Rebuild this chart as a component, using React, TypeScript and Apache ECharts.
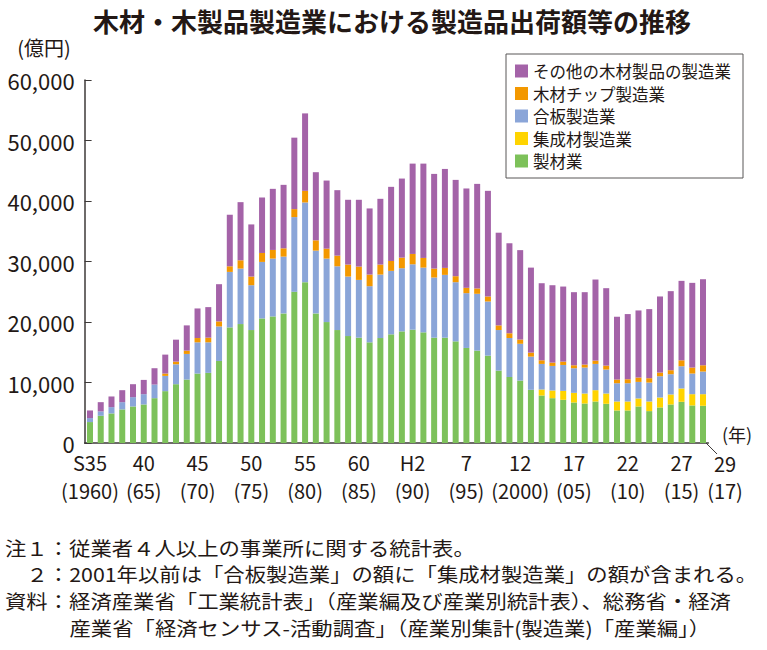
import React, { useEffect, useRef } from "react";
import * as echarts from "echarts";

const years = [
  "1960", "1961", "1962", "1963", "1964", "1965", "1966", "1967", "1968", "1969",
  "1970", "1971", "1972", "1973", "1974", "1975", "1976", "1977", "1978", "1979",
  "1980", "1981", "1982", "1983", "1984", "1985", "1986", "1987", "1988", "1989",
  "1990", "1991", "1992", "1993", "1994", "1995", "1996", "1997", "1998", "1999",
  "2000", "2001", "2002", "2003", "2004", "2005", "2006", "2007", "2008", "2009",
  "2010", "2011", "2012", "2013", "2014", "2015", "2016", "2017",
];

// 製材業 (green)
const seizai = [
  3460, 4500, 4890, 5550, 6040, 6370, 7410, 8570, 9720, 10490,
  11480, 11590, 13560, 19110, 19660, 18670, 20590, 20920, 21420, 24990,
  26580, 21420, 19990, 18670, 17680, 17410, 16640, 17350, 17960, 18450,
  18730, 18290, 17410, 17410, 16800, 15710, 15270, 14440, 11970, 10900,
  10320, 8790, 7850, 7410, 7140, 6700, 6530, 6860, 6480, 5380,
  5380, 6040, 5270, 5880, 6370, 6810, 6210, 6150,
];
// 集成材製造業 (yellow)
const shuseizai = [
  0, 0, 0, 0, 0, 0, 0, 0, 0, 0,
  0, 0, 0, 0, 0, 0, 0, 0, 0, 0,
  0, 0, 0, 0, 0, 0, 0, 0, 0, 0,
  0, 0, 0, 0, 0, 0, 0, 0, 0, 0,
  0, 0, 990, 1270, 1480, 1590, 1650, 1870, 1700, 1480,
  1480, 1320, 1590, 1640, 1650, 2200, 1860, 1920,
];
// 合板製造業 (blue)
const gouhan = [
  660, 720, 1040, 1200, 1540, 1700, 2250, 2520, 3290, 4230,
  5160, 5050, 5710, 9170, 9170, 7410, 9340, 9560, 9390, 12350,
  13180, 10380, 10490, 10540, 9830, 9550, 9280, 10490, 10490, 10440,
  10810, 10700, 9940, 10380, 9780, 9060, 9390, 8950, 6700, 6450,
  6080, 5490, 4230, 4060, 4280, 4070, 4290, 4340, 3960, 3020,
  3020, 2740, 3130, 3520, 3350, 3680, 3410, 3740,
];
// 木材チップ製造業 (orange)
const chip = [
  0, 0, 0, 0, 0, 0, 0, 390, 440, 550,
  710, 770, 830, 930, 1370, 1430, 1480, 1430, 1370, 1320,
  1920, 1700, 1640, 1760, 1980, 2200, 1920, 1650, 1640, 1750,
  1710, 1600, 1480, 1150, 990, 880, 880, 830, 770, 770,
  700, 660, 600, 550, 550, 490, 490, 550, 650, 610,
  660, 720, 720, 600, 660, 980, 990, 1040,
];
// その他の木材製品の製造業 (purple)
const sonota = [
  1260, 1530, 1760, 1980, 2140, 2360, 2700, 3130, 3630, 4170,
  4890, 5050, 6150, 8520, 9610, 8620, 9170, 10100, 10490, 11810,
  12800, 11260, 11260, 10820, 10710, 11040, 10930, 10870, 12250, 13070,
  14930, 15590, 15650, 16360, 15920, 16420, 17290, 17460, 15320, 14910,
  14780, 14050, 12740, 12790, 12410, 12080, 11970, 13400, 12800, 10380,
  10770, 11090, 11420, 12580, 13070, 13130, 14000, 14220,
];

const labelYears = ["1960", "1965", "1970", "1975", "1980", "1985", "1990", "1995", "2000", "2005", "2010", "2015"];
const labelTop = ["S35", "40", "45", "50", "55", "60", "H2", "7", "12", "17", "22", "27"];
const labelBottom = ["(1960)", "(65)", "(70)", "(75)", "(80)", "(85)", "(90)", "(95)", "(2000)", "(05)", "(10)", "(15)"];
const lastLabel = ["29", "(17)"];

const seriesNames = ["製材業", "集成材製造業", "合板製造業", "木材チップ製造業", "その他の木材製品の製造業"];
const legendOrder = ["その他の木材製品の製造業", "木材チップ製造業", "合板製造業", "集成材製造業", "製材業"];
const colors = ["#7dc15a", "#ffd400", "#8aa5d8", "#f39800", "#a463a8"];

const notes = [
  "注１：従業者４人以上の事業所に関する統計表。",
  "２：2001年以前は「合板製造業」の額に「集成材製造業」の額が含まれる。",
  "資料：経済産業省「工業統計表」（産業編及び産業別統計表）、総務省・経済",
  "産業省「経済センサス-活動調査」（産業別集計(製造業)「産業編」）",
];

const FONT = "'Noto Sans CJK JP', 'Noto Sans', sans-serif";
const TEXT = "#231815";

export default function App() {
  const ref = useRef<HTMLDivElement>(null);
  useEffect(() => {
    if (!ref.current) return;
    const chart = echarts.init(ref.current, undefined, { renderer: "svg" });
    const dataSets = [seizai, shuseizai, gouhan, chip, sonota];
    chart.setOption({
      animation: false,
      textStyle: { fontFamily: FONT, color: TEXT },
      title: {
        text: "木材・木製品製造業における製造品出荷額等の推移",
        left: 88,
        top: 2,
        textStyle: { fontFamily: FONT, fontSize: 26, fontWeight: "bold", color: TEXT },
      },
      legend: {
        orient: "vertical",
        left: 506,
        top: 54,
        data: legendOrder,
        icon: "rect",
        itemWidth: 13,
        itemHeight: 13,
        itemGap: 5.5,
        padding: [8.5, 12, 8.5, 9],
        borderColor: "#595757",
        borderWidth: 1,
        textStyle: { fontFamily: FONT, fontSize: 16.5, lineHeight: 17, color: TEXT },
      },
      grid: { left: 84.6, right: 58.6, top: 80, bottom: 207 },
      xAxis: {
        type: "category",
        data: years,
        boundaryGap: true,
        axisLine: { lineStyle: { color: "#3e3a39", width: 1.5 } },
        axisTick: { inside: true, length: 8, interval: 0, lineStyle: { color: "#595757" } },
        axisLabel: {
          interval: 0,
          margin: 5,
          fontFamily: FONT,
          fontSize: 20,
          lineHeight: 28,
          color: TEXT,
          formatter: (v: string) => {
            const i = labelYears.indexOf(v);
            return i < 0 ? "" : labelTop[i] + "\n" + labelBottom[i];
          },
        },
      },
      yAxis: {
        type: "value",
        min: 0,
        max: 60000,
        interval: 10000,
        axisLine: { show: true, lineStyle: { color: "#3e3a39", width: 1.5 } },
        axisTick: { show: true, inside: true, length: 7, lineStyle: { color: "#3e3a39" } },
        splitLine: { show: false },
        axisLabel: {
          margin: 10,
          fontFamily: FONT,
          fontSize: 22,
          color: TEXT,
          formatter: (v: number) => v.toLocaleString("en-US"),
        },
      },
      series: seriesNames.map((name, i) => ({
        name,
        type: "bar",
        stack: "total",
        barWidth: 6,
        itemStyle: { color: colors[i] },
        data: dataSets[i],
      })),
    });

    const xLast = chart.convertToPixel({ xAxisIndex: 0 }, years[years.length - 1]) as number;
    const y0 = chart.convertToPixel({ yAxisIndex: 0 }, 0) as number;
    const lx = xLast + 22;
    const noteSize = 17.8;
    chart.setOption({
      graphic: [
        {
          type: "line",
          shape: { x1: xLast + 3, y1: y0, x2: xLast + 14, y2: y0 + 11 },
          style: { stroke: "#3e3a39", lineWidth: 1 },
        },
        {
          type: "text",
          x: lx,
          y: y0 + 20,
          style: { text: lastLabel[0], fontFamily: FONT, fontSize: 20, fill: TEXT, align: "center", verticalAlign: "middle" },
        },
        {
          type: "text",
          x: lx,
          y: y0 + 47,
          style: { text: lastLabel[1], fontFamily: FONT, fontSize: 20, fill: TEXT, align: "center", verticalAlign: "middle" },
        },
        {
          type: "text",
          x: 737,
          y: y0 - 9,
          style: { text: "(年)", fontFamily: FONT, fontSize: 18, fill: TEXT, align: "center", verticalAlign: "middle" },
        },
        {
          type: "text",
          x: 44,
          y: 47,
          style: { text: "(億円)", fontFamily: FONT, fontSize: 20, fill: TEXT, align: "center", verticalAlign: "middle" },
        },
        ...notes.map((t, i) => ({
          type: "text",
          x: [5, 26.5, 5, 69.5][i],
          y: [547, 573, 600, 627][i],
          scaleX: 1.2,
          scaleY: 1.08,
          style: { text: t, fontFamily: FONT, fontSize: noteSize, fill: TEXT, align: "left", verticalAlign: "middle" },
        })),
      ],
    });

    return () => chart.dispose();
  }, []);
  return <div ref={ref} style={{ position: "absolute", left: 0, top: 0, width: 767, height: 650 }} />;
}
